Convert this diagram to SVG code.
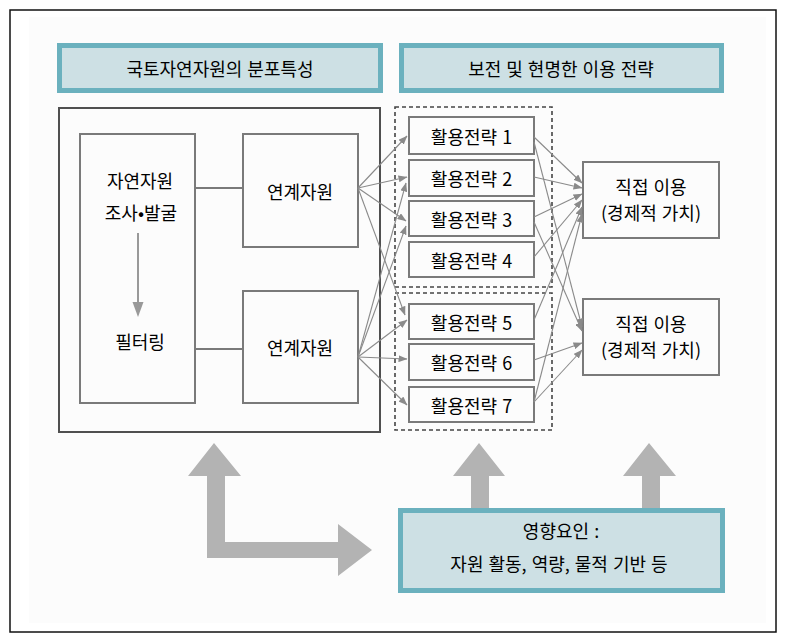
<svg xmlns="http://www.w3.org/2000/svg" width="786" height="642" viewBox="0 0 786 642">
<defs>
<style>
text{font-family:"Noto Sans CJK KR","Noto Sans",sans-serif;font-size:18px;fill:#000;text-anchor:middle;dominant-baseline:central;word-spacing:1px}
.hdr{fill:#cde0e4;stroke:#6bb1be;stroke-width:5}
.box{fill:none;stroke:#7a7a7a;stroke-width:2}
.dash{fill:none;stroke:#444;stroke-width:1.6;stroke-dasharray:4 3}
.con{stroke:#8a8a8a;stroke-width:1.1;fill:none;marker-end:url(#ah)}
.big{fill:#b3b3b3}
</style>
<marker id="ah" markerUnits="userSpaceOnUse" markerWidth="9" markerHeight="7" refX="8.5" refY="3.5" orient="auto">
<path d="M0,0 L9,3.5 L0,7 z" fill="#8a8a8a"/>
</marker>
</defs>
<rect x="0" y="0" width="786" height="642" fill="#fff"/>
<rect x="29" y="17" width="737" height="606" fill="#fcfcfc"/>
<rect x="10" y="10" width="766" height="622" fill="none" stroke="#111" stroke-width="1.5"/>

<g id="header-left">
<rect class="hdr" x="59.5" y="45.5" width="321" height="45"/>
<text x="220" y="68">국토자연자원의 분포특성</text>
</g>
<g id="header-right">
<rect class="hdr" x="401.5" y="45.5" width="320" height="45"/>
<text x="561" y="68">보전 및 현명한 이용 전략</text>
</g>

<g id="left-panel">
<rect x="59" y="108" width="321" height="324" fill="none" stroke="#505050" stroke-width="2"/>
</g>
<g id="survey">
<rect class="box" x="80" y="134" width="115" height="269"/>
<text x="140" y="180">자연자원</text>
<text x="141" y="212">조사•발굴</text>
<line x1="138" y1="233" x2="138" y2="304" stroke="#999" stroke-width="2"/>
<path d="M132.5,302 L143.5,302 L138,317 z" fill="#999"/>
<text x="140" y="341">필터링</text>
</g>
<g id="link1">
<rect class="box" x="243" y="134" width="115" height="113"/>
<text x="300" y="191">연계자원</text>
</g>
<g id="link2">
<rect class="box" x="243" y="291" width="115" height="112"/>
<text x="300" y="347">연계자원</text>
</g>

<g id="group-a"><rect class="dash" x="395" y="107" width="157" height="180"/></g>
<g id="group-b"><rect class="dash" x="395" y="293" width="157" height="137"/></g>

<g id="s1"><rect class="box" x="409" y="117" width="125" height="37"/><text x="471.5" y="135.5">활용전략 1</text></g>
<g id="s2"><rect class="box" x="409" y="160" width="125" height="36"/><text x="471.5" y="178">활용전략 2</text></g>
<g id="s3"><rect class="box" x="409" y="201" width="125" height="35"/><text x="471.5" y="218.5">활용전략 3</text></g>
<g id="s4"><rect class="box" x="409" y="242" width="125" height="35"/><text x="471.5" y="259.5">활용전략 4</text></g>
<g id="s5"><rect class="box" x="409" y="304" width="125" height="35"/><text x="471.5" y="321.5">활용전략 5</text></g>
<g id="s6"><rect class="box" x="409" y="344" width="125" height="36"/><text x="471.5" y="362">활용전략 6</text></g>
<g id="s7"><rect class="box" x="409" y="387" width="125" height="35"/><text x="471.5" y="404.5">활용전략 7</text></g>

<g id="use1"><rect class="box" x="583" y="162" width="136" height="76"/><text x="651" y="186">직접 이용</text><text x="651" y="212">(경제적 가치)</text></g>
<g id="use2"><rect class="box" x="583" y="299" width="136" height="76"/><text x="651" y="323">직접 이용</text><text x="651" y="349">(경제적 가치)</text></g>

<g id="factors">
<rect class="hdr" x="400.5" y="510.5" width="322" height="80"/>
<text x="561" y="530">영향요인 :</text>
<text x="559" y="563">자원 활동, 역량, 물적 기반 등</text>
</g>

<g id="connectors">
<line x1="195" y1="188" x2="243" y2="188" stroke="#7a7a7a" stroke-width="2"/>
<line x1="195" y1="349" x2="243" y2="349" stroke="#7a7a7a" stroke-width="2"/>
<line class="con" x1="358" y1="188" x2="407" y2="136"/>
<line class="con" x1="358" y1="188" x2="407" y2="177"/>
<line class="con" x1="358" y1="188" x2="406" y2="221"/>
<line class="con" x1="358" y1="188" x2="405" y2="315"/>
<line class="con" x1="358" y1="357" x2="406" y2="183"/>
<line class="con" x1="358" y1="357" x2="406" y2="226"/>
<line class="con" x1="358" y1="357" x2="407" y2="320"/>
<line class="con" x1="358" y1="357" x2="407" y2="359"/>
<line class="con" x1="358" y1="357" x2="407" y2="405"/>
<line class="con" x1="534" y1="137" x2="582" y2="183"/>
<line class="con" x1="534" y1="142" x2="582" y2="327"/>
<line class="con" x1="534" y1="177" x2="582" y2="188"/>
<line class="con" x1="534" y1="217" x2="582" y2="194"/>
<line class="con" x1="534" y1="222" x2="582" y2="331"/>
<line class="con" x1="534" y1="257" x2="582" y2="200"/>
<line class="con" x1="534" y1="320" x2="582" y2="207"/>
<line class="con" x1="534" y1="360" x2="582" y2="343"/>
<line class="con" x1="534" y1="402" x2="582" y2="350"/>
<line class="con" x1="534" y1="402" x2="582" y2="214"/>
<polygon class="big" points="214,443 241,476 225,476 225,542 338,542 338,524 372,550 338,576 338,558 207,558 207,476 188,476"/>
<polygon class="big" points="479,443 505,476 489,476 489,508 471,508 471,476 453,476"/>
<polygon class="big" points="649,443 676,476 660,476 660,508 642,508 642,476 623,476"/>
</g>
</svg>
